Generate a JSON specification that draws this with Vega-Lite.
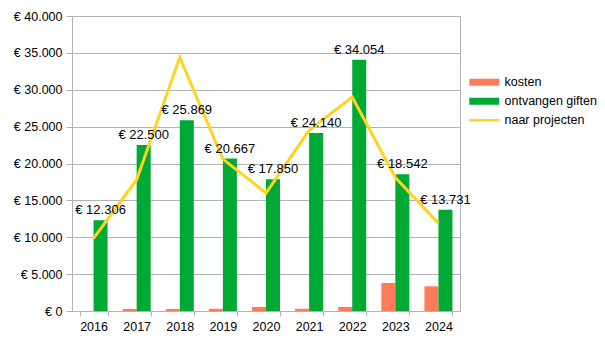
{
  "$schema": "https://vega.github.io/schema/vega-lite/v6.json",
  "autosize": "none",
  "width": 388,
  "height": 295,
  "padding": {"left": 72, "top": 16, "right": 145, "bottom": 30},
  "background": "white",
  "config": {
    "font": "Liberation Sans",
    "view": {"stroke": "#b3b3b3", "strokeWidth": 1},
    "axis": {"labelFont": "Liberation Sans", "labelFontSize": 12.5, "labelColor": "#000000", "gridColor": "#b3b3b3", "domainColor": "#b3b3b3", "tickColor": "#b3b3b3", "title": null}
  },
  "data": {
    "values": [
      {"year": "2016", "series": "kosten", "value": 0},
      {"year": "2017", "series": "kosten", "value": 270},
      {"year": "2018", "series": "kosten", "value": 270},
      {"year": "2019", "series": "kosten", "value": 300},
      {"year": "2020", "series": "kosten", "value": 550},
      {"year": "2021", "series": "kosten", "value": 300},
      {"year": "2022", "series": "kosten", "value": 550},
      {"year": "2023", "series": "kosten", "value": 3800},
      {"year": "2024", "series": "kosten", "value": 3350},
      {"year": "2016", "series": "ontvangen giften", "value": 12306},
      {"year": "2017", "series": "ontvangen giften", "value": 22500},
      {"year": "2018", "series": "ontvangen giften", "value": 25869},
      {"year": "2019", "series": "ontvangen giften", "value": 20667},
      {"year": "2020", "series": "ontvangen giften", "value": 17850},
      {"year": "2021", "series": "ontvangen giften", "value": 24140},
      {"year": "2022", "series": "ontvangen giften", "value": 34054},
      {"year": "2023", "series": "ontvangen giften", "value": 18542},
      {"year": "2024", "series": "ontvangen giften", "value": 13731},
      {"year": "2016", "series": "naar projecten", "value": 9860},
      {"year": "2017", "series": "naar projecten", "value": 17800},
      {"year": "2018", "series": "naar projecten", "value": 34400},
      {"year": "2019", "series": "naar projecten", "value": 20600},
      {"year": "2020", "series": "naar projecten", "value": 16000},
      {"year": "2021", "series": "naar projecten", "value": 24500},
      {"year": "2022", "series": "naar projecten", "value": 29000},
      {"year": "2023", "series": "naar projecten", "value": 18100},
      {"year": "2024", "series": "naar projecten", "value": 11900}
    ]
  },
  "encoding": {
    "x": {
      "field": "year", "type": "nominal",
      "scale": {"paddingInner": 0.35, "paddingOuter": 0.175},
      "axis": {"labelAngle": 0, "tickBand": "extent", "tickSize": 5, "labelPadding": 4, "domain": true, "grid": false}
    },
    "y": {
      "field": "value", "type": "quantitative",
      "scale": {"domain": [0, 40000], "nice": false},
      "axis": {"values": [0, 5000, 10000, 15000, 20000, 25000, 30000, 35000, 40000], "labelExpr": "'€ ' + replace(format(datum.value, ','), ',', '.')", "tickSize": 6, "labelPadding": 4, "domain": true, "grid": true}
    }
  },
  "layer": [
    {
      "transform": [{"filter": "datum.series !== 'naar projecten'"}],
      "mark": {"type": "bar"},
      "encoding": {
        "xOffset": {"field": "series", "type": "nominal", "scale": {"domain": ["kosten", "ontvangen giften"], "paddingInner": 0, "paddingOuter": 0}},
        "color": {
          "field": "series", "type": "nominal",
          "scale": {"domain": ["kosten", "ontvangen giften", "naar projecten"], "range": ["#FF7B59", "#00A933", "#FFD320"]},
          "legend": {
            "title": null, "orient": "none", "legendX": 406, "legendY": 60,
            "labelFontSize": 12.5, "labelFont": "Liberation Sans", "labelColor": "#000000",
            "symbolSize": 64, "labelOffset": 14, "rowPadding": 6,
            "symbolType": "M-3.75,-0.875H3.75V0.875H-3.75Z",
            "encode": {
              "symbols": {
                "update": {
                  "shape": {"signal": "datum.value === 'naar projecten' ? 'M-3.75,-0.3H3.75V0.3H-3.75Z' : 'M-3.75,-0.875H3.75V0.875H-3.75Z'"},
                  "fill": {"scale": "color", "field": "value"},
                  "strokeWidth": {"value": 0},
                  "opacity": {"value": 1}
                }
              }
            }
          }
        }
      }
    },
    {
      "transform": [{"filter": "datum.series === 'naar projecten'"}],
      "mark": {"type": "line", "strokeWidth": 3},
      "encoding": {
        "color": {"field": "series", "type": "nominal"}
      }
    },
    {
      "transform": [
        {"filter": "datum.series === 'ontvangen giften'"},
        {"calculate": "'€ ' + replace(format(datum.value, ','), ',', '.')", "as": "label"}
      ],
      "mark": {"type": "text", "dy": -6, "baseline": "alphabetic", "fontSize": 13, "color": "#000000", "font": "Liberation Sans"},
      "encoding": {
        "xOffset": {"field": "series", "type": "nominal"},
        "text": {"field": "label"}
      }
    }
  ]
}
